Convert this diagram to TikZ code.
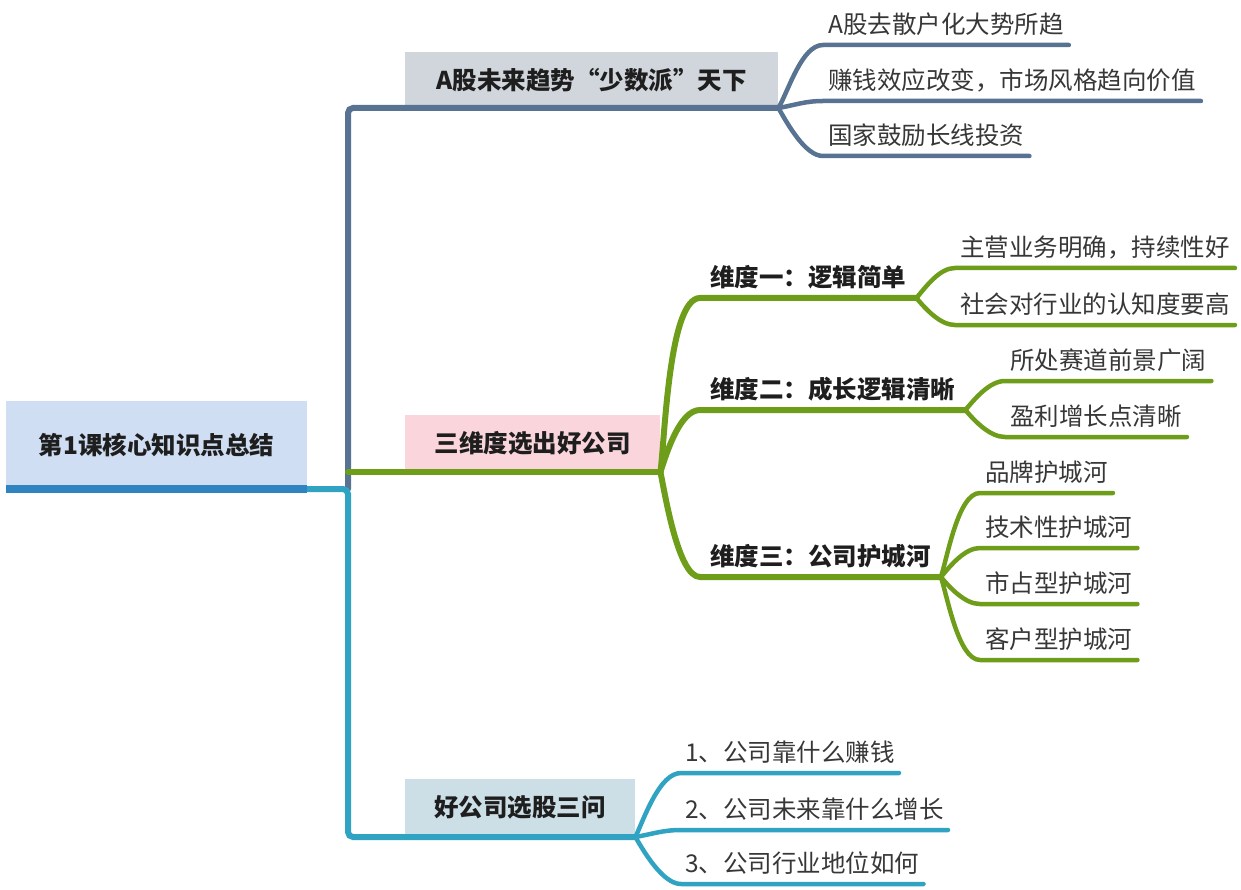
\documentclass[tikz,border=0pt]{standalone}
\usepackage{fontspec}
\setmainfont{Noto Sans CJK SC}
\usetikzlibrary{positioning}

\definecolor{brancha}{RGB}{88,115,145}
\definecolor{branchb}{RGB}{110,157,26}
\definecolor{branchc}{RGB}{49,163,194}
\definecolor{rootbar}{RGB}{46,131,192}
\definecolor{rootfill}{RGB}{207,222,242}
\definecolor{fill_a}{RGB}{209,214,221}
\definecolor{fill_b}{RGB}{250,213,220}
\definecolor{fill_c}{RGB}{204,223,231}
\definecolor{textdark}{RGB}{30,30,30}
\definecolor{textgrey}{RGB}{55,55,55}

\newcommand{\mapsize}{\fontsize{24.5pt}{28pt}\selectfont}

\tikzset{
  trunk/.style={line width=6pt, line cap=round},
  twig/.style={line width=4.5pt, line cap=round},
  rootbox/.style={anchor=south west, fill=rootfill, inner sep=0pt,
    minimum width=301pt, minimum height=88pt, font=\bfseries\mapsize, text=textdark},
  topicbox/.style={anchor=south west, inner sep=0pt, font=\bfseries\mapsize, text=textdark},
  subtopic/.style={anchor=south west, inner xsep=10pt, inner ysep=6pt,
    text height=19pt, text depth=5pt, font=\bfseries\mapsize, text=textdark},
  leaf/.style={anchor=south west, inner xsep=5pt, inner ysep=6pt,
    text height=19pt, text depth=5pt, font=\mapsize, text=textgrey}
}

\begin{document}
\begin{tikzpicture}[x=1pt,y=-1pt]
  \useasboundingbox (0,0) rectangle (1241,890);

  % root and topic boxes
  \node[rootbox] at (6,489) (root) {第1课核心知识点总结};
  \node[topicbox, fill=fill_a, minimum width=373pt, minimum height=56pt] at (405,108) (topic_a) {A股未来趋势“少数派”天下};
  \node[topicbox, fill=fill_b, minimum width=255pt, minimum height=57pt] at (405,472) (topic_b) {三维度选出好公司};
  \node[topicbox, fill=fill_c, minimum width=230pt, minimum height=58pt] at (405,837) (topic_c) {好公司选股三问};
  \coordinate (hub) at (348,489);

  % trunk
  \draw[trunk, brancha, rounded corners=5pt] (hub) -- (hub |- topic_a.south west) -- (topic_a.south east);
  \draw[trunk, branchb] (hub |- topic_b.south west) -- (topic_b.south east);
  \draw[trunk, branchc, rounded corners=5pt] (root.south east) -- (hub) -- (hub |- topic_c.south west) -- (topic_c.south east);
  \draw[line width=8pt, rootbar] (root.south west) -- (root.south east);

  % branch a
  \node[leaf] at (823,45)  (leaf_a1) {A股去散户化大势所趋};
  \node[leaf] at (823,101) (leaf_a2) {赚钱效应改变，市场风格趋向价值};
  \node[leaf] at (823,156) (leaf_a3) {国家鼓励长线投资};

  \draw[twig, brancha] (topic_a.south east) to[out=60,in=180,looseness=0.7] (leaf_a1.south west) -- (leaf_a1.south east);
  \draw[twig, brancha] (topic_a.south east) to[out=10,in=180] (leaf_a2.south west) -- (leaf_a2.south east);
  \draw[twig, brancha] (topic_a.south east) to[out=-60,in=180,looseness=0.7] (leaf_a3.south west) -- (leaf_a3.south east);

  % branch b
  \node[subtopic] at (700,298) (dim_1) {维度一：逻辑简单};
  \node[subtopic] at (700,410) (dim_2) {维度二：成长逻辑清晰};
  \node[subtopic] at (700,577) (dim_3) {维度三：公司护城河};

  \draw[trunk, branchb] (topic_b.south east) to[out=82,in=180,looseness=0.45] (dim_1.south west) -- (dim_1.south east);
  \draw[trunk, branchb] (topic_b.south east) to[out=72,in=180,looseness=0.7] (dim_2.south west) -- (dim_2.south east);
  \draw[trunk, branchb] (topic_b.south east) to[out=-78,in=180,looseness=0.5] (dim_3.south west) -- (dim_3.south east);

  \node[leaf] at (955,268)  (leaf_b1) {主营业务明确，持续性好};
  \node[leaf] at (955,325)  (leaf_b2) {社会对行业的认知度要高};
  \node[leaf] at (1005,381) (leaf_b3) {所处赛道前景广阔};
  \node[leaf] at (1005,437) (leaf_b4) {盈利增长点清晰};
  \node[leaf] at (980,493)  (leaf_b5) {品牌护城河};
  \node[leaf] at (980,548)  (leaf_b6) {技术性护城河};
  \node[leaf] at (980,604)  (leaf_b7) {市占型护城河};
  \node[leaf] at (980,660)  (leaf_b8) {客户型护城河};

  \draw[twig, branchb] (dim_1.south east) to[out=50,in=180,looseness=0.8] (leaf_b1.south west) -- (leaf_b1.south east);
  \draw[twig, branchb] (dim_1.south east) to[out=-50,in=180,looseness=0.8] (leaf_b2.south west) -- (leaf_b2.south east);
  \draw[twig, branchb] (dim_2.south east) to[out=50,in=180,looseness=0.8] (leaf_b3.south west) -- (leaf_b3.south east);
  \draw[twig, branchb] (dim_2.south east) to[out=-50,in=180,looseness=0.8] (leaf_b4.south west) -- (leaf_b4.south east);
  \draw[twig, branchb] (dim_3.south east) to[out=72,in=180,looseness=0.6] (leaf_b5.south west) -- (leaf_b5.south east);
  \draw[twig, branchb] (dim_3.south east) to[out=50,in=180,looseness=0.8] (leaf_b6.south west) -- (leaf_b6.south east);
  \draw[twig, branchb] (dim_3.south east) to[out=-50,in=180,looseness=0.8] (leaf_b7.south west) -- (leaf_b7.south east);
  \draw[twig, branchb] (dim_3.south east) to[out=-72,in=180,looseness=0.6] (leaf_b8.south west) -- (leaf_b8.south east);

  % branch c
  \node[leaf, inner xsep=4pt] at (681,773) (leaf_c1) {1、公司靠什么赚钱};
  \node[leaf, inner xsep=4pt] at (681,830) (leaf_c2) {2、公司未来靠什么增长};
  \node[leaf, inner xsep=4pt] at (681,884) (leaf_c3) {3、公司行业地位如何};

  \draw[twig, branchc] (topic_c.south east) to[out=65,in=180,looseness=0.7] (leaf_c1.south west) -- (leaf_c1.south east);
  \draw[twig, branchc] (topic_c.south east) to[out=10,in=180] (leaf_c2.south west) -- (leaf_c2.south east);
  \draw[twig, branchc] (topic_c.south east) to[out=-60,in=180,looseness=0.7] (leaf_c3.south west) -- (leaf_c3.south east);

\end{tikzpicture}
\end{document}
